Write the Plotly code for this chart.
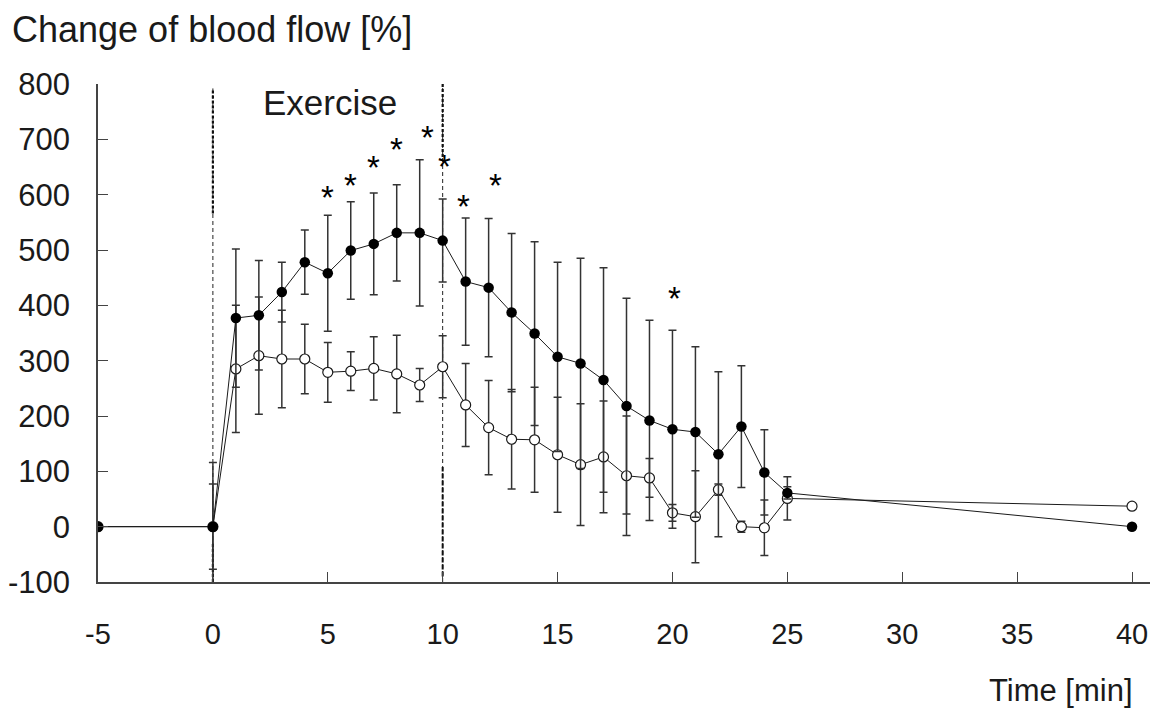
import plotly.graph_objects as go

# ---- data ----
time_min = [-5, 0, 1, 2, 3, 4, 5, 6, 7, 8, 9, 10, 11, 12, 13, 14, 15, 16, 17, 18, 19, 20, 21, 22, 23, 24, 25, 40]

filled_mean = [0, 0, 377, 382, 424, 478, 458, 499, 511, 531, 531, 517, 443, 432, 387, 349, 307, 295, 265, 218,
               192, 176, 171, 131, 181, 98, 61, 0]
filled_sd = [0, 116, 125, 99, 54, 58, 105, 88, 92, 87, 132, 75, 115, 125, 143, 166, 171, 190, 203, 195,
             181, 179, 154, 149, 110, 77, 11, 0]

open_mean = [0, 0, 285, 309, 303, 303, 279, 281, 286, 276, 256, 289, 220, 179, 158, 157, 130, 112, 126, 92,
             88, 25, 18, 67, 0, -2, 51, 37]
open_sd = [0, 77, 115, 106, 88, 63, 54, 35, 57, 70, 30, 56, 75, 85, 90, 95, 104, 110, 101, 108,
           35, 15, 83, 10, 10, 50, 39, 0]

sig_x = [5, 6, 7, 8, 9.35, 10.1, 10.9, 12.3, 20.1]
sig_y = [603, 623, 657, 688, 711, 659, 585, 623, 420]

x_ticks = [-5, 0, 5, 10, 15, 20, 25, 30, 35, 40]
y_ticks = [-100, 0, 100, 200, 300, 400, 500, 600, 700, 800]

exercise_start = 0
exercise_end = 10

FONT = "Liberation Sans, Arial, sans-serif"
INK = "#1a1a1a"

# the page body adds an 8px margin, so the figure is sized to fit the window
W, H = 1150, 701
L, T, B, R = 90, 76, 127, 3

fig = go.Figure()

fig.add_trace(go.Scatter(
    x=time_min, y=open_mean, mode="lines+markers",
    line=dict(color=INK, width=1),
    marker=dict(symbol="circle", size=10, color="white", line=dict(color=INK, width=1.2)),
    error_y=dict(type="data", array=open_sd, visible=True, color="#333333", thickness=1.5, width=4),
    showlegend=False, cliponaxis=True,
))
fig.add_trace(go.Scatter(
    x=time_min, y=filled_mean, mode="lines+markers",
    line=dict(color=INK, width=1),
    marker=dict(symbol="circle", size=10.5, color="black"),
    error_y=dict(type="data", array=filled_sd, visible=True, color="#333333", thickness=1.5, width=4),
    showlegend=False, cliponaxis=True,
))

shapes = []
shapes.append(dict(type="line", xref="x", yref="y", x0=exercise_start, x1=exercise_start, y0=-100, y1=792,
                   line=dict(color="#222222", width=1, dash="4px,3px"), layer="below"))
shapes.append(dict(type="line", xref="x", yref="y", x0=exercise_end, x1=exercise_end, y0=-100, y1=800,
                   line=dict(color="#222222", width=1, dash="4px,3px"), layer="below"))
shapes.append(dict(type="line", xref="x", yref="y", x0=exercise_start, x1=exercise_start, y0=566, y1=792,
                   line=dict(color="#111111", width=2.2, dash="3px,2px"), layer="below"))
shapes.append(dict(type="line", xref="x", yref="y", x0=exercise_start, x1=exercise_start, y0=-100, y1=-30,
                   line=dict(color="#111111", width=2.2, dash="3px,2px"), layer="below"))
shapes.append(dict(type="line", xref="x", yref="y", x0=exercise_end, x1=exercise_end, y0=668, y1=800,
                   line=dict(color="#111111", width=2.2, dash="3px,2px"), layer="below"))
shapes.append(dict(type="line", xref="x", yref="y", x0=exercise_end, x1=exercise_end, y0=-90, y1=108,
                   line=dict(color="#111111", width=2, dash="5px,2px"), layer="below"))

plot_w = W - L - R
plot_h = H - T - B

annotations = []
for sx, sy in zip(sig_x, sig_y):
    annotations.append(dict(x=sx, y=sy, xref="x", yref="y", text="*", showarrow=False,
                            font=dict(family=FONT, size=33, color="black"), yshift=-4))
annotations.append(dict(x=5.1, y=767, xref="x", yref="y", text="Exercise", showarrow=False,
                        font=dict(family=FONT, size=35, color=INK)))
annotations.append(dict(x=(1135 - 98) / plot_w, y=(582 - 690) / plot_h, xref="paper", yref="paper",
                        text="Time [min]", showarrow=False, xanchor="right", yanchor="middle",
                        font=dict(family=FONT, size=31, color=INK)))

fig.update_layout(
    width=W, height=H,
    margin=dict(l=L, r=R, t=T, b=B, autoexpand=False),
    paper_bgcolor="white", plot_bgcolor="white",
    title=dict(text="Change of blood flow [%]", x=4 / W, xanchor="left", xref="container",
               y=1 - 21 / H, yanchor="middle", yref="container",
               font=dict(family=FONT, size=36, color=INK)),
    shapes=shapes, annotations=annotations,
    xaxis=dict(range=[-5, 41], tickvals=x_ticks, ticktext=[str(v) for v in x_ticks],
               showgrid=False, zeroline=False, showline=True, linecolor="#444444", linewidth=1.5,
               ticks="inside", ticklen=10, tickwidth=1.2, tickcolor="#444444",
               tickfont=dict(family=FONT, size=29, color=INK), ticklabelstandoff=25),
    yaxis=dict(range=[-100, 800], tickvals=y_ticks, ticktext=[str(v) for v in y_ticks],
               showgrid=False, zeroline=False, showline=True, linecolor="#444444", linewidth=1.5,
               ticks="inside", ticklen=10, tickwidth=1.2, tickcolor="#444444",
               tickfont=dict(family=FONT, size=31, color=INK), ticklabelstandoff=20),
)

fig.write_html("out.html")
